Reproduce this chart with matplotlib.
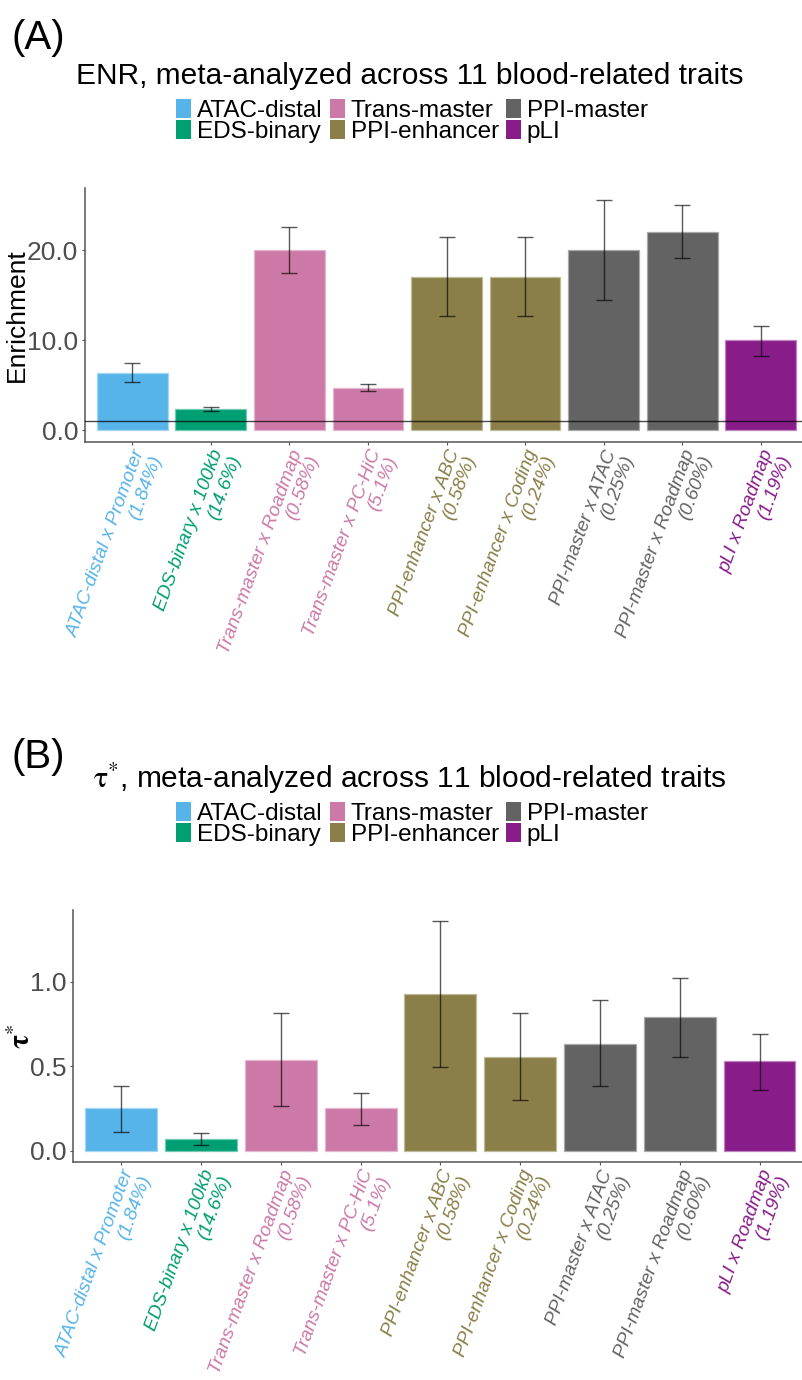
"""ENR and tau* bar charts, meta-analyzed across blood-related traits."""
import numpy as np
import matplotlib
matplotlib.use("Agg")
import matplotlib.pyplot as plt  # noqa: E402
from matplotlib.patches import Patch  # noqa: E402
from matplotlib.colors import to_rgb  # noqa: E402

plt.rcParams["font.family"] = ["Liberation Sans", "DejaVu Sans"]
plt.rcParams["mathtext.fontset"] = "stix"

# ---- data ----
labels = [
    "ATAC-distal x Promoter\n(1.84%)",
    "EDS-binary x 100kb\n(14.6%)",
    "Trans-master x Roadmap\n(0.58%)",
    "Trans-master x PC-HiC\n(5.1%)",
    "PPI-enhancer x ABC\n(0.58%)",
    "PPI-enhancer x Coding\n(0.24%)",
    "PPI-master x ATAC\n(0.25%)",
    "PPI-master x Roadmap\n(0.60%)",
    "pLI x Roadmap\n(1.19%)",
]
groups = ["ATAC-distal", "EDS-binary", "Trans-master", "Trans-master",
          "PPI-enhancer", "PPI-enhancer", "PPI-master", "PPI-master", "pLI"]
legend_order = ["ATAC-distal", "EDS-binary", "Trans-master",
                "PPI-enhancer", "PPI-master", "pLI"]
group_colors = {
    "ATAC-distal": "#56B4E9",
    "EDS-binary": "#009E73",
    "Trans-master": "#CC79A7",
    "PPI-enhancer": "#8A7F48",
    "PPI-master": "#636363",
    "pLI": "#881D8A",
}

enr = [6.4, 2.4, 20.0, 4.7, 17.0, 17.0, 20.0, 22.0, 10.0]
enr_lo = [5.4, 2.2, 17.5, 4.4, 12.7, 12.7, 14.5, 19.1, 8.3]
enr_hi = [7.5, 2.6, 22.6, 5.1, 21.4, 21.4, 25.6, 25.0, 11.6]

tau = [0.25, 0.07, 0.54, 0.25, 0.93, 0.555, 0.635, 0.79, 0.53]
tau_lo = [0.11, 0.032, 0.262, 0.153, 0.496, 0.302, 0.383, 0.552, 0.361]
tau_hi = [0.385, 0.105, 0.814, 0.343, 1.359, 0.814, 0.893, 1.022, 0.694]

colors = [group_colors[g] for g in groups]
W, H = 802, 1380


def lighter(c, f=0.45):
    r, g, b = to_rgb(c)
    return (r + (1 - r) * f, g + (1 - g) * f, b + (1 - b) * f)


def panel(rect, vals, lo, hi, yticks, ylabel, ylab_x, ylab_size, letter,
          letter_y, title, title_y, leg_y, hline=None):
    ax = fig.add_axes(rect)
    x = np.arange(len(vals))
    ax.bar(x, vals, width=0.9, color=colors,
           edgecolor=[lighter(c) for c in colors], linewidth=0.9, zorder=2)
    v = np.array(vals)
    err = [v - np.array(lo), np.array(hi) - v]
    ax.errorbar(x, vals, yerr=err, fmt="none", ecolor="black", alpha=0.65,
                elinewidth=1.0, capsize=5.6, capthick=1.0, zorder=3)
    if hline is not None:
        ax.axhline(hline, color="black", alpha=0.7, lw=1.0, zorder=4)
    top = max(hi)
    ax.set_ylim(-0.05 * top, top * 1.05)
    ax.set_xlim(-0.6, len(vals) - 0.4)
    ax.set_yticks(yticks)
    ax.set_yticklabels(["%.1f" % t for t in yticks], fontsize=19,
                       color="#4D4D4D")
    ax.set_xticks(x)
    ax.set_xticklabels(labels, rotation=70, ha="right", va="top",
                       rotation_mode="anchor", fontsize=13.8, style="italic",
                       linespacing=1.08)
    for t, c in zip(ax.get_xticklabels(), colors):
        t.set_color(c)
    for s in ["top", "right"]:
        ax.spines[s].set_visible(False)
    for s in ["left", "bottom"]:
        ax.spines[s].set_color("#555555")
        ax.spines[s].set_linewidth(1.1)
    ax.tick_params(axis="both", color="#555555", length=2.5, width=0.8)
    ax.tick_params(axis="y", pad=2.5)
    ax.tick_params(axis="x", pad=1.5)
    fig.text(ylab_x / W, rect[1] + rect[3] / 2, ylabel, rotation=90,
             fontsize=ylab_size, ha="center", va="center")
    fig.text(12 / W, 1 - letter_y / H, letter, fontsize=29, va="center",
             ha="left")
    fig.text(410 / W, 1 - title_y / H, title, fontsize=21.5, ha="center",
             va="baseline")
    handles = [Patch(facecolor=group_colors[g], edgecolor="none")
               for g in legend_order]
    fig.legend(handles, legend_order, loc="center",
               bbox_to_anchor=(412 / W, 1 - leg_y / H), ncol=3, frameon=False,
               fontsize=17.5, handlelength=0.6, handleheight=0.85,
               handletextpad=0.25, columnspacing=0.3, labelspacing=-0.08,
               borderpad=0, borderaxespad=0)
    return ax


fig = plt.figure(figsize=(W / 100, H / 100), dpi=100)

panel([85 / W, 1 - 442 / H, 723 / W, 254 / H], enr, enr_lo, enr_hi,
      [0, 10, 20], "Enrichment", 17, 19, "(A)", 38,
      "ENR, meta-analyzed across 11 blood-related traits", 84, 121, hline=1)
panel([73.4 / W, 1 - 1162 / H, 734 / W, 252 / H], tau, tau_lo, tau_hi,
      [0, 0.5, 1.0], r"$\mathbf{\tau}^{*}$", 22, 21, "(B)", 757,
      r"$\mathrm{\tau}^{*}$, meta-analyzed across 11 blood-related traits",
      788, 824)

fig.savefig("out.png", dpi=100)
plt.close(fig)
